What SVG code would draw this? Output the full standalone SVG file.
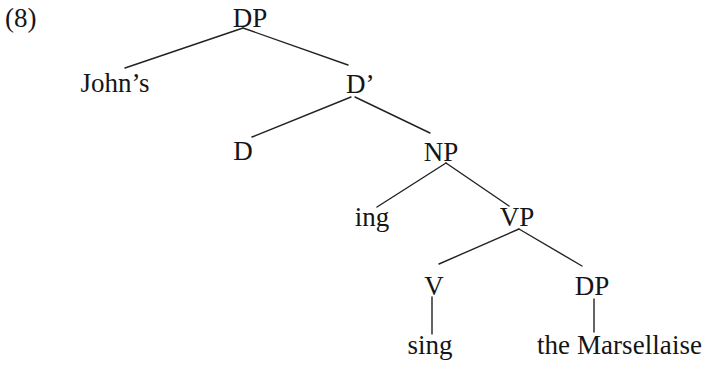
<svg xmlns="http://www.w3.org/2000/svg" width="704" height="368" viewBox="0 0 704 368">
<style>
text{font-family:"Liberation Serif","Times New Roman",serif;font-size:27px;fill:#151515}
.m{text-anchor:middle}
.e line{stroke:#222;stroke-width:1.4;stroke-linecap:round}
</style>
<rect width="704" height="368" fill="#fff"/>
<text id="label" x="5" y="27">(8)</text>
<g class="e" id="edges">
<line x1="243" y1="28" x2="125" y2="68"/>
<line x1="243" y1="28" x2="348" y2="65"/>
<line x1="351" y1="97" x2="252" y2="137"/>
<line x1="355" y1="97" x2="430" y2="133"/>
<line x1="446" y1="163" x2="377" y2="207"/>
<line x1="446" y1="163" x2="509" y2="206"/>
<line x1="519" y1="229" x2="439" y2="264"/>
<line x1="519" y1="229" x2="582" y2="266"/>
<line x1="432" y1="297" x2="432" y2="334"/>
<line x1="594" y1="299" x2="594" y2="332"/>
</g>
<g id="n-dp"><text class="m" x="250" y="27">DP</text></g>
<g id="n-johns"><text class="m" x="115" y="92">John’s</text></g>
<g id="n-dbar"><text x="346" y="93">D’</text></g>
<g id="n-d"><text class="m" x="243" y="160">D</text></g>
<g id="n-np"><text class="m" x="441" y="161">NP</text></g>
<g id="n-ing"><text class="m" x="372" y="226">ing</text></g>
<g id="n-vp"><text class="m" x="517" y="226">VP</text></g>
<g id="n-v"><text class="m" x="434" y="295">V</text></g>
<g id="n-dp2"><text class="m" x="592" y="295">DP</text></g>
<g id="n-sing"><text class="m" x="430" y="354">sing</text></g>
<g id="n-mars"><text x="537" y="354" textLength="165" lengthAdjust="spacing">the Marsellaise</text></g>
</svg>
